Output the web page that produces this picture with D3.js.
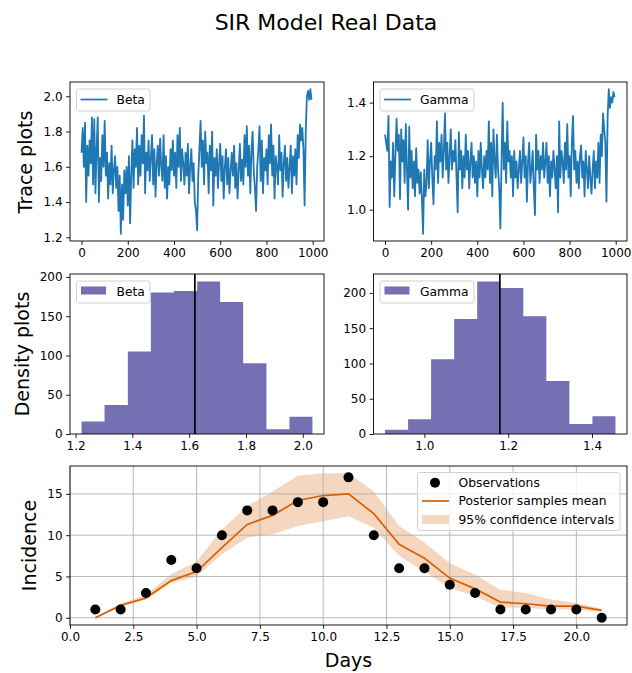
<!DOCTYPE html>
<html><head><meta charset="utf-8">
<script src="https://cdn.jsdelivr.net/npm/d3@7/dist/d3.min.js"></script>
<style>
body{margin:0;background:#fff;}
text{font-family:"DejaVu Sans",sans-serif;fill:#000;}
</style></head>
<body><svg id="c" width="632" height="673"></svg>
<script>
// ---------- DATA ----------
const betaTrace = [
1.68,1.82,1.60,1.85,1.40,1.72,1.55,1.75,1.62,1.88,
1.50,1.87,1.45,1.70,1.88,1.40,1.65,1.52,1.78,1.60,
1.86,1.55,1.68,1.42,1.62,1.50,1.72,1.45,1.58,1.66,
1.48,1.60,1.35,1.55,1.22,1.50,1.30,1.58,1.45,1.60,
1.38,1.66,1.28,1.55,1.75,1.48,1.70,1.60,1.82,1.50,
1.72,1.55,1.78,1.62,1.89,1.45,1.68,1.58,1.75,1.52,
1.65,1.78,1.50,1.70,1.43,1.62,1.72,1.55,1.76,1.60,
1.52,1.78,1.48,1.66,1.42,1.60,1.50,1.70,1.58,1.75,
1.55,1.68,1.48,1.78,1.60,1.82,1.52,1.70,1.62,1.50,
1.68,1.55,1.73,1.45,1.60,1.70,1.52,1.62,1.40,1.35,
1.24,1.55,1.70,1.86,1.60,1.75,1.50,1.80,1.62,1.68,
1.45,1.72,1.58,1.80,1.38,1.65,1.55,1.70,1.48,1.62,
1.73,1.52,1.66,1.42,1.60,1.70,1.50,1.65,1.45,1.58,
1.68,1.55,1.72,1.48,1.62,1.42,1.58,1.73,1.52,1.64,
1.50,1.78,1.60,1.83,1.55,1.72,1.45,1.68,1.80,1.58,
1.48,1.35,1.60,1.70,1.83,1.52,1.75,1.45,1.65,1.58,
1.70,1.50,1.78,1.62,1.84,1.55,1.72,1.42,1.66,1.60,
1.50,1.78,1.58,1.68,1.43,1.62,1.72,1.52,1.65,1.48,
1.60,1.72,1.45,1.66,1.55,1.70,1.50,1.78,1.65,1.84,
1.75,1.82,1.70,1.38,1.80,2.00,2.03,1.98,2.04,1.98];
const gammaTrace = [
1.28,1.25,1.22,1.35,1.01,1.18,1.12,1.25,1.05,1.20,
1.34,1.22,1.28,1.04,1.30,1.18,1.26,1.10,1.32,1.15,
1.00,1.31,1.12,1.22,1.08,1.18,1.05,1.23,1.10,1.15,
1.06,1.14,1.04,0.91,1.15,1.05,1.10,1.26,1.08,1.18,
1.25,1.12,1.02,1.20,1.15,1.33,1.10,1.25,1.18,1.28,
1.12,1.22,1.36,1.15,1.25,1.10,1.20,1.30,1.15,1.22,
1.18,1.26,1.12,0.99,1.29,1.15,1.22,1.08,1.20,1.12,
1.28,1.15,1.22,1.08,1.18,1.25,1.12,1.20,1.10,1.18,
1.05,1.22,1.12,1.25,1.15,1.08,1.20,1.12,1.22,1.15,
1.33,1.10,1.25,1.05,1.30,1.18,1.12,1.28,1.15,1.08,
0.93,1.18,1.40,1.15,1.25,1.10,1.33,1.18,1.22,1.12,
1.20,1.05,1.22,1.12,1.18,1.08,1.15,1.22,1.10,1.18,
1.27,1.12,1.20,1.03,1.18,1.25,1.10,1.15,1.22,1.08,
0.98,1.28,1.15,1.22,1.10,1.20,1.15,1.25,1.12,1.18,
1.25,1.10,1.20,1.05,1.18,1.12,1.22,1.15,1.08,1.20,
0.99,1.33,1.12,1.22,1.18,1.10,1.25,1.15,1.32,1.12,
1.20,1.05,1.25,1.35,1.15,1.22,1.10,1.18,1.08,1.20,
1.24,1.12,1.18,1.05,1.22,1.15,1.08,1.20,1.12,1.06,
1.15,1.22,1.08,1.18,1.12,1.25,1.10,1.28,1.20,1.36,
1.30,1.25,1.03,1.35,1.45,1.38,1.42,1.40,1.44,1.42];
const traceStep = 5; // iterations between stored samples

const betaEdges = [1.221,1.302,1.384,1.465,1.546,1.628,1.709,1.790,1.872,1.953,2.034];
const betaCounts = [16,37,105,180,182,194,168,90,6,22];
const betaMean = 1.62;
const gammaEdges = [0.906,0.961,1.016,1.071,1.126,1.181,1.236,1.291,1.346,1.401,1.456];
const gammaCounts = [6,21,106,163,216,207,167,75,14,25];
const gammaMean = 1.18;

const days = [1,2,3,4,5,6,7,8,9,10,11,12,13,14,15,16,17,18,19,20,21];
const observations = [1,1,3,7,6,10,13,13,14,14,17,10,6,6,4,3,1,1,1,1,0];
const postMean = [0.0,1.5,2.4,4.5,5.6,8.5,11.3,12.4,14.2,14.8,15.0,12.6,8.9,7.2,4.8,3.5,1.9,1.7,1.4,1.4,0.9];
const ciLower = [0.0,1.3,2.2,4.2,5.0,7.7,9.7,10.1,11.1,11.7,12.3,10.9,7.5,5.6,3.6,2.6,1.2,1.2,1.0,1.0,0.7];
const ciUpper = [0.1,1.7,2.8,5.3,6.8,10.7,13.5,15.3,17.2,17.5,17.5,15.3,11.1,9.1,6.6,5.2,3.4,3.0,2.2,1.8,1.1];

const traceXTicks = [0,200,400,600,800,1000];
const betaTraceYTicks = [1.2,1.4,1.6,1.8,2.0];
const gammaTraceYTicks = [1.0,1.2,1.4];
const betaHistXTicks = [1.2,1.4,1.6,1.8,2.0];
const gammaHistXTicks = [1.0,1.2,1.4];
const histYTicks = [0,50,100,150,200];
const dayTicks = [0,2.5,5,7.5,10,12.5,15,17.5,20];
const incTicks = [0,5,10,15];

// ---------- STYLE ----------
const blue = "#1f77b4", purple = "#7570b3", orange = "#d95f02";
const TICK = 12, LEG = 12.3, LAB = 19;
const svg = d3.select("#c");

function pad(ext){ const r = ext[1]-ext[0]; return [ext[0]-0.05*r, ext[1]+0.05*r]; }

function frame(g, x0, y0, x1, y1){
  g.append("rect").attr("x",x0).attr("y",y0).attr("width",x1-x0).attr("height",y1-y0)
   .attr("fill","none").attr("stroke","#000").attr("stroke-width",0.9);
}
function axes(g, xs, ys, xt, yt, xfmt, yfmt, y1, x0){
  const ax = g.append("g").attr("transform",`translate(0,${y1})`)
    .call(d3.axisBottom(xs).tickValues(xt).tickFormat(xfmt).tickSize(3.9).tickPadding(3.5));
  const ay = g.append("g").attr("transform",`translate(${x0},0)`)
    .call(d3.axisLeft(ys).tickValues(yt).tickFormat(yfmt).tickSize(3.9).tickPadding(3.5));
  [ax,ay].forEach(a=>{
    a.select(".domain").remove();
    a.selectAll("line").attr("stroke","#000").attr("stroke-width",0.9);
    a.selectAll("text").attr("font-size",TICK).attr("font-family","DejaVu Sans").attr("fill","#000");
  });
}
function legendBox(g, x, y, w, h){
  g.append("rect").attr("x",x).attr("y",y).attr("width",w).attr("height",h).attr("rx",2.5)
   .attr("fill","#fff").attr("fill-opacity",0.8).attr("stroke","#cccccc").attr("stroke-width",0.9);
}

// ---------- TITLE ----------
svg.append("text").attr("x",326).attr("y",30).attr("text-anchor","middle")
  .attr("font-size",22).text("SIR Model Real Data");

// ---------- TRACE PLOTS ----------
function tracePlot(data, x0, x1, y0, y1, yticks, name, legW){
  const g = svg.append("g");
  const iters = data.map((d,i)=>i*traceStep);
  const xs = d3.scaleLinear().domain(pad([0, 999])).range([x0,x1]);
  const ys = d3.scaleLinear().domain(pad(d3.extent(data))).range([y1,y0]);
  g.append("clipPath").attr("id","cp"+name).append("rect").attr("x",x0).attr("y",y0).attr("width",x1-x0).attr("height",y1-y0);
  g.append("path").datum(data).attr("clip-path",`url(#cp${name})`)
   .attr("d", d3.line().x((d,i)=>xs(iters[i])).y(d=>ys(d)))
   .attr("fill","none").attr("stroke",blue).attr("stroke-width",1.8).attr("stroke-linejoin","round");
  axes(g, xs, ys, traceXTicks, yticks, d3.format("d"), d3.format(".1f"), y1, x0);
  frame(g,x0,y0,x1,y1);
  legendBox(g, x0+6.5, y0+7, legW, 22);
  g.append("line").attr("x1",x0+10.5).attr("x2",x0+37.5).attr("y1",y0+17.5).attr("y2",y0+17.5)
   .attr("stroke",blue).attr("stroke-width",1.7);
  g.append("text").attr("x",x0+46.5).attr("y",y0+22).attr("font-size",LEG).text(name);
}
tracePlot(betaTrace, 70, 324, 82, 241, betaTraceYTicks, "Beta", 73.5);
tracePlot(gammaTrace, 373.5, 627, 82, 241, gammaTraceYTicks, "Gamma", 94);

// ---------- DENSITY PLOTS ----------
function histPlot(edges, counts, mean, x0, x1, y0, y1, xticks, name, legW){
  const g = svg.append("g");
  const xs = d3.scaleLinear().domain(pad([edges[0], edges[edges.length-1]])).range([x0,x1]);
  const ys = d3.scaleLinear().domain([0, d3.max(counts)*1.05]).range([y1,y0]);
  // one outline path per histogram so adjacent bars share edges without seams
  const pts = [[xs(edges[0]), ys(0)]];
  counts.forEach((c,i)=>{ pts.push([xs(edges[i]), ys(c)]); pts.push([xs(edges[i+1]), ys(c)]); });
  pts.push([xs(edges[edges.length-1]), ys(0)]);
  g.append("path").attr("d", d3.line()(pts) + "Z").attr("fill",purple);
  g.append("line").attr("x1",xs(mean)).attr("x2",xs(mean)).attr("y1",y0).attr("y2",y1)
   .attr("stroke","#000").attr("stroke-width",1.7);
  axes(g, xs, ys, xticks, histYTicks, d3.format(".1f"), d3.format("d"), y1, x0);
  frame(g,x0,y0,x1,y1);
  legendBox(g, x0+6.5, y0+7, legW, 22);
  g.append("rect").attr("x",x0+11).attr("y",y0+12.5).attr("width",25).attr("height",8).attr("fill",purple);
  g.append("text").attr("x",x0+46.5).attr("y",y0+22).attr("font-size",LEG).text(name);
}
histPlot(betaEdges, betaCounts, betaMean, 70, 324, 274, 434, betaHistXTicks, "Beta", 73.5);
histPlot(gammaEdges, gammaCounts, gammaMean, 373.5, 627, 274, 434, gammaHistXTicks, "Gamma", 94);

// ---------- ROW LABELS ----------
svg.append("text").attr("transform","translate(32,162) rotate(-90)").attr("text-anchor","middle")
  .attr("font-size",LAB).text("Trace plots");
svg.append("text").attr("transform","translate(29,354) rotate(-90)").attr("text-anchor","middle")
  .attr("font-size",LAB).text("Density plots");

// ---------- INCIDENCE ----------
(function(){
  const x0=70,x1=627,y0=466,y1=625;
  const g = svg.append("g");
  const xs = d3.scaleLinear().domain(pad(d3.extent(days))).range([x0,x1]);
  const all = observations.concat(postMean, ciLower, ciUpper);
  const ys = d3.scaleLinear().domain(pad(d3.extent(all))).range([y1,y0]);
  g.append("path").datum(days)
   .attr("d", d3.area().x(d=>xs(d)).y0((d,i)=>ys(ciLower[i])).y1((d,i)=>ys(ciUpper[i])))
   .attr("fill",orange).attr("fill-opacity",0.25);
  g.selectAll("line.gx").data(dayTicks).join("line").attr("class","gx")
   .attr("x1",d=>xs(d)).attr("x2",d=>xs(d)).attr("y1",y0).attr("y2",y1)
   .attr("stroke","#b0b0b0").attr("stroke-width",0.9);
  g.selectAll("line.gy").data(incTicks).join("line").attr("class","gy")
   .attr("y1",d=>ys(d)).attr("y2",d=>ys(d)).attr("x1",x0).attr("x2",x1)
   .attr("stroke","#b0b0b0").attr("stroke-width",0.9);
  g.append("path").datum(days)
   .attr("d", d3.line().x(d=>xs(d)).y((d,i)=>ys(postMean[i])))
   .attr("fill","none").attr("stroke",orange).attr("stroke-width",1.7);
  g.selectAll("circle.obs").data(days).join("circle").attr("class","obs")
   .attr("cx",d=>xs(d)).attr("cy",(d,i)=>ys(observations[i])).attr("r",5).attr("fill","#000");
  axes(g, xs, ys, dayTicks, incTicks, d3.format(".1f"), d3.format("d"), y1, x0);
  frame(g,x0,y0,x1,y1);
  legendBox(g, 417.5, 472.5, 202.5, 58);
  g.append("circle").attr("cx",435).attr("cy",482.7).attr("r",5).attr("fill","#000");
  g.append("text").attr("x",458.5).attr("y",487).attr("font-size",LEG).text("Observations");
  g.append("line").attr("x1",422).attr("x2",449).attr("y1",501).attr("y2",501).attr("stroke",orange).attr("stroke-width",1.7);
  g.append("text").attr("x",458.5).attr("y",505.3).attr("font-size",LEG).text("Posterior samples mean");
  g.append("rect").attr("x",422).attr("y",515).attr("width",27).attr("height",9).attr("fill",orange).attr("fill-opacity",0.25);
  g.append("text").attr("x",458.5).attr("y",523.8).attr("font-size",LEG).text("95% confidence intervals");
  svg.append("text").attr("x",348.5).attr("y",667).attr("text-anchor","middle").attr("font-size",LAB).text("Days");
  svg.append("text").attr("transform","translate(36,545.5) rotate(-90)").attr("text-anchor","middle")
    .attr("font-size",LAB).text("Incidence");
})();
</script></body></html>
